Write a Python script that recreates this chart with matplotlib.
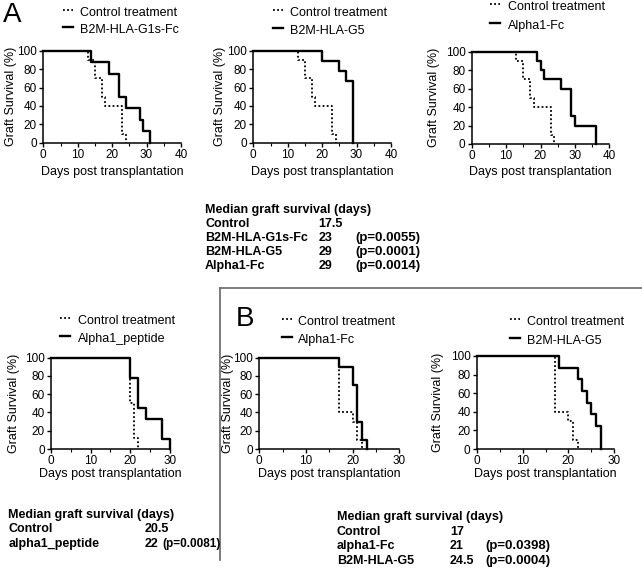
import matplotlib
matplotlib.use('Agg')
import matplotlib.pyplot as plt
from matplotlib.lines import Line2D
from matplotlib.ticker import MultipleLocator

plt.rcParams['font.family'] = ['Liberation Sans', 'DejaVu Sans']

W, H = 642, 571

# Kaplan-Meier steps (days, % survival)
ctrl_a_days = [0, 13, 15, 17, 18, 23, 24]
ctrl_a_surv = [100, 90, 70, 50, 40, 10, 0]
g1s_days = [0, 14, 19, 22, 24, 28, 29, 31]
g1s_surv = [100, 87.5, 75, 50, 37.5, 25, 12.5, 0]
g5_days = [0, 20, 25, 27, 29]
g5_surv = [100, 88.9, 77.8, 66.7, 0]
a1fc_days = [0, 19, 20, 21, 26, 29, 30, 36]
a1fc_surv = [100, 90, 80, 70, 60, 30, 20, 0]

ctrl_pep_days = [0, 20, 21, 22]
ctrl_pep_surv = [100, 50, 12.5, 0]
pep_days = [0, 20, 22, 24, 28, 30]
pep_surv = [100, 77.8, 44.4, 33.3, 11.1, 0]

ctrl_b_days = [0, 17, 20, 21, 22]
ctrl_b_surv = [100, 40, 30, 10, 0]
b_a1fc_days = [0, 17, 20, 21, 22, 23]
b_a1fc_surv = [100, 90, 70, 30, 10, 0]
b_g5_days = [0, 18, 22, 23, 24, 25, 26, 27]
b_g5_surv = [100, 87.5, 75, 62.5, 50, 37.5, 25, 0]

# median survival tables
tab_a_names = ['Control', 'B2M-HLA-G1s-Fc', 'B2M-HLA-G5', 'Alpha1-Fc']
tab_a_median = ['17.5', '23', '29', '29']
tab_a_p = ['', '(p=0.0055)', '(p=0.0001)', '(p=0.0014)']
tab_pep_names = ['Control', 'alpha1_peptide']
tab_pep_median = ['20.5', '22']
tab_pep_p = ['', '(p=0.0081)']
tab_b_names = ['Control', 'alpha1-Fc', 'B2M-HLA-G5']
tab_b_median = ['17', '21', '24.5']
tab_b_p = ['', '(p=0.0398)', '(p=0.0004)']

fig = plt.figure(figsize=(W / 100, H / 100), dpi=100)


def fx(x):
    return x / W


def fy(y):
    return 1 - y / H


def km_panel(box, xmax, ctrl, treat, name, ylab_right, legend_pos):
    x0, x1, ytop, ybot = box
    ax = fig.add_axes([fx(x0), fy(ybot), (x1 - x0) / W, (ybot - ytop) / H])
    ax.step(ctrl[0], ctrl[1], where='post', color='black', lw=1.3,
            ls=(0, (1, 1.3)), clip_on=False)
    ax.step(treat[0], treat[1], where='post', color='black', lw=1.7,
            clip_on=False)
    ax.set_xlim(0, xmax)
    ax.set_ylim(0, 100)
    ax.spines[['top', 'right']].set_visible(False)
    for s in ['left', 'bottom']:
        ax.spines[s].set_linewidth(1.1)
    ax.set_xticks(range(0, xmax + 1, 10))
    ax.xaxis.set_minor_locator(MultipleLocator(5))
    ax.set_yticks(range(0, 101, 20))
    ax.tick_params(which='major', length=3, width=1, pad=1.5, labelsize=8.5)
    ax.tick_params(which='minor', length=2, width=0.8)
    ax.set_ylabel('Graft Survival (%)', fontsize=9)
    ax.yaxis.set_label_coords((ylab_right - x0) / (x1 - x0), 0.5)
    ax.set_xlabel('Days post transplantation', fontsize=9)
    xlab_top = 166.5 if ybot < 200 else 467.5
    ax.xaxis.set_label_coords(0.5, -(xlab_top - ybot) / (ybot - ytop))

    # legend drawn by hand: short line sample + label
    lx, tx, r1, r2 = legend_pos
    for yy, lab, ls, lw in [(r1, 'Control treatment', (0, (1, 1.3)), 1.3),
                            (r2, name, '-', 1.7)]:
        fig.add_artist(Line2D([fx(lx), fx(lx + 10)], [fy(yy - 3), fy(yy - 3)],
                              color='black', ls=ls, lw=lw))
        fig.text(fx(tx), fy(yy), lab, fontsize=9, va='center', ha='left')
    return ax


km_panel((43.3, 181, 50.7, 142.7), 40, (ctrl_a_days, ctrl_a_surv),
         (g1s_days, g1s_surv), 'B2M-HLA-G1s-Fc', 17.5, (63, 80, 13.3, 30))
km_panel((253.3, 391, 50.7, 142.7), 40, (ctrl_a_days, ctrl_a_surv),
         (g5_days, g5_surv), 'B2M-HLA-G5', 226.5, (273, 290, 13.3, 31))
km_panel((471.7, 609.3, 51.7, 144), 40, (ctrl_a_days, ctrl_a_surv),
         (a1fc_days, a1fc_surv), 'Alpha1-Fc', 440, (490, 508, 7.3, 26))
km_panel((51, 170, 357.5, 449), 30, (ctrl_pep_days, ctrl_pep_surv),
         (pep_days, pep_surv), 'Alpha1_peptide', 19.5, (60, 77.7, 320.7, 339))
km_panel((259.3, 399.3, 357.5, 449), 30, (ctrl_b_days, ctrl_b_surv),
         (b_a1fc_days, b_a1fc_surv), 'Alpha1-Fc', 233.5, (282, 298, 321.7, 340))
km_panel((476.7, 614.3, 356, 449), 30, (ctrl_b_days, ctrl_b_surv),
         (b_g5_days, b_g5_surv), 'B2M-HLA-G5', 443.5, (510, 526.7, 321.7, 340.7))

# panel letters
fig.text(fx(2.5), fy(15), 'A', fontsize=20, va='center', ha='left')
fig.text(fx(236), fy(319.5), 'B', fontsize=20, va='center', ha='left')

# separator lines around panel B
fig.add_artist(Line2D([fx(220), fx(220)], [fy(288), fy(560)], color='#666666', lw=1.2))
fig.add_artist(Line2D([fx(220), fx(642)], [fy(288), fy(288)], color='#666666', lw=1.2))


def median_table(x_name, x_med, x_p, y_title, step, names, medians, pvals, psize=9):
    fig.text(fx(x_name), fy(y_title), 'Median graft survival (days)',
             fontsize=9, fontweight='bold', va='center')
    for i, (n, m, p) in enumerate(zip(names, medians, pvals)):
        yy = fy(y_title + step * (i + 1))
        fig.text(fx(x_name), yy, n, fontsize=9, fontweight='bold', va='center')
        fig.text(fx(x_med), yy, m, fontsize=9, fontweight='bold', va='center')
        if p:
            fig.text(fx(x_p), yy, p, fontsize=psize, fontweight='bold', va='center')


median_table(205, 318.3, 355, 209.7, 14.0, tab_a_names, tab_a_median, tab_a_p, psize=9.5)
median_table(8.3, 145, 162, 515, 14.3, tab_pep_names, tab_pep_median, tab_pep_p, psize=8.5)
median_table(336.7, 450, 485.7, 517.3, 14.5, tab_b_names, tab_b_median, tab_b_p, psize=9.5)

fig.savefig('out.png', dpi=100)
